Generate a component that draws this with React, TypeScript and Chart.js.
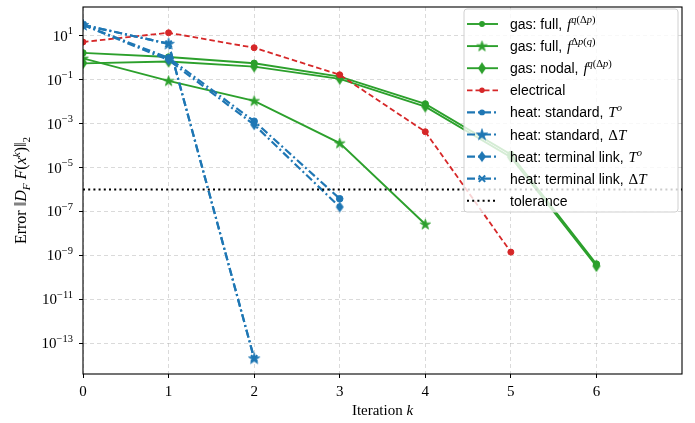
import React, { useEffect, useRef } from 'react';
import { Chart, registerables } from 'chart.js';

Chart.register(...registerables);

// ---------- data ----------
const ITERATIONS = [0, 1, 2, 3, 4, 5, 6];
const X_MAX = 7;
const Y_TICK_EXPONENTS = [1, -1, -3, -5, -7, -9, -11, -13];
const Y_MIN_EXP = -14.41;
const Y_MAX_EXP = 2.32;

const GAS_FULL_Q = [1.7, 1.1, 0.57, 0.14, 8e-3, 4e-5, 4e-10];
const GAS_FULL_DP = [0.95, 0.09, 0.011, 1.3e-4, 2.6e-8];
const GAS_NODAL = [0.56, 0.68, 0.4, 0.11, 6e-3, 3e-5, 3.2e-10];
const ELECTRICAL = [5.3, 14, 2.9, 0.17, 4.3e-4, 1.4e-9];
const HEAT_STD_T = [32, 1.0, 1.3e-3, 3.8e-7];
const HEAT_STD_DT = [32, 4.4, 2e-14];
const HEAT_TL_T = [32, 0.8, 9e-4, 1.6e-7];
const HEAT_TL_DT = [32, 4.4, 2e-14];
const TOLERANCE = 1e-6;

const LEGEND_TEXT = [
  'gas: full, ',
  'gas: full, ',
  'gas: nodal, ',
  'electrical',
  'heat: standard, ',
  'heat: standard, ',
  'heat: terminal link, ',
  'heat: terminal link, ',
  'tolerance',
];

type Part = [string, string];
const F_Q_DP: Part[] = [['f', 'it'], ['q', 'supit'], ['(', 'suprm'], ['Δ', 'suprm'], ['p', 'supit'], [')', 'suprm']];
const F_DP_Q: Part[] = [['f', 'it'], ['Δ', 'suprm'], ['p', 'supit'], ['(', 'suprm'], ['q', 'supit'], [')', 'suprm']];
const T_O: Part[] = [['T', 'it'], ['o', 'supit']];
const DELTA_T: Part[] = [['Δ', 'rm'], ['T', 'it']];
const LEGEND_MATH: Part[][] = [F_Q_DP, F_DP_Q, F_Q_DP, [], T_O, DELTA_T, T_O, DELTA_T, []];

const GREEN = '#2ca02c';
const RED = '#d62728';
const BLUE = '#1f77b4';

// ---------- markers ----------
function makeStar(color: string, d: number) {
  const c = document.createElement('canvas');
  const s = Math.ceil(d) + 2;
  c.width = s;
  c.height = s;
  const g = c.getContext('2d')!;
  const R = d / 2;
  const r = R * 0.382;
  g.translate(s / 2, s / 2 + R * 0.06);
  g.beginPath();
  for (let i = 0; i < 10; i++) {
    const rad = i % 2 === 0 ? R : r;
    const a = -Math.PI / 2 + (i * Math.PI) / 5;
    const x = rad * Math.cos(a);
    const y = rad * Math.sin(a);
    if (i === 0) g.moveTo(x, y);
    else g.lineTo(x, y);
  }
  g.closePath();
  g.fillStyle = color;
  g.fill();
  g.strokeStyle = color;
  g.lineWidth = 0.8;
  g.stroke();
  return c;
}

function makeDiamond(color: string, w: number, h: number) {
  const c = document.createElement('canvas');
  c.width = Math.ceil(w) + 2;
  c.height = Math.ceil(h) + 2;
  const g = c.getContext('2d')!;
  const cx = c.width / 2;
  const cy = c.height / 2;
  g.beginPath();
  g.moveTo(cx, cy - h / 2);
  g.lineTo(cx + w / 2, cy);
  g.lineTo(cx, cy + h / 2);
  g.lineTo(cx - w / 2, cy);
  g.closePath();
  g.fillStyle = color;
  g.fill();
  return c;
}

function toPoints(values: number[]) {
  return values.map((v, i) => ({ x: ITERATIONS[i], y: v }));
}

// ---------- rich text helper ----------
function fontFor(style: string, base = 15) {
  const sub = Math.round(base * 0.7 * 10) / 10;
  switch (style) {
    case 'sans':
      return { font: '14px "Liberation Sans"', dy: 0 };
    case 'it':
      return { font: `italic ${base}px "Liberation Serif"`, dy: 0 };
    case 'rm':
      return { font: `${base}px "Liberation Serif"`, dy: 0 };
    case 'supit':
      return { font: `italic ${sub}px "Liberation Serif"`, dy: -base * 0.4 };
    case 'suprm':
      return { font: `${sub}px "Liberation Serif"`, dy: -base * 0.4 };
    case 'subit':
      return { font: `italic ${sub}px "Liberation Serif"`, dy: base * 0.24 };
    case 'subrm':
      return { font: `${sub}px "Liberation Serif"`, dy: base * 0.24 };
    default:
      return { font: `${base}px "Liberation Serif"`, dy: 0 };
  }
}

function measureParts(ctx: CanvasRenderingContext2D, parts: Part[], base = 15) {
  let w = 0;
  for (const [t, s] of parts) {
    ctx.font = fontFor(s, base).font;
    w += ctx.measureText(t).width;
  }
  return w;
}

function drawParts(ctx: CanvasRenderingContext2D, x: number, y: number, parts: Part[], base = 15) {
  for (const [t, s] of parts) {
    const f = fontFor(s, base);
    ctx.font = f.font;
    ctx.fillText(t, x, y + f.dy);
    x += ctx.measureText(t).width;
  }
  return x;
}

const Y_TITLE: Part[] = [
  ['Error ', 'rm'],
  ['‖', 'rm'],
  ['D', 'it'],
  ['F', 'subit'],
  [' ', 'rm'],
  ['F', 'it'],
  ['(', 'rm'],
  ['x', 'it'],
  ['k', 'supit'],
  [')', 'rm'],
  ['‖', 'rm'],
  ['2', 'subrm'],
];
const X_TITLE: Part[] = [
  ['Iteration ', 'rm'],
  ['k', 'it'],
];

export default function App() {
  const ref = useRef<HTMLCanvasElement>(null);

  useEffect(() => {
    const canvas = ref.current!;

    const greenStar = makeStar(GREEN, 11);
    const blueStar = makeStar(BLUE, 12);
    const greenDiamond = makeDiamond(GREEN, 8, 12);
    const blueDiamond = makeDiamond(BLUE, 8, 11);

    const series = [
      { data: GAS_FULL_Q, color: GREEN, dash: [] as number[], width: 1.9, marker: 'circle' as any, radius: 3.2 },
      { data: GAS_FULL_DP, color: GREEN, dash: [], width: 1.9, marker: greenStar, radius: 5 },
      { data: GAS_NODAL, color: GREEN, dash: [], width: 1.9, marker: greenDiamond, radius: 5 },
      { data: ELECTRICAL, color: RED, dash: [5.5, 3], width: 1.8, marker: 'circle', radius: 3 },
      { data: HEAT_STD_T, color: BLUE, dash: [8, 3, 2, 3], width: 2.2, marker: 'circle', radius: 3.3 },
      { data: HEAT_STD_DT, color: BLUE, dash: [8, 3, 2, 3], width: 2.2, marker: blueStar, radius: 5 },
      { data: HEAT_TL_T, color: BLUE, dash: [8, 3, 2, 3], width: 2.2, marker: blueDiamond, radius: 5 },
      { data: HEAT_TL_DT, color: BLUE, dash: [8, 3, 2, 3], width: 2.2, marker: 'crossRot', radius: 4.5 },
    ];

    const datasets: any[] = series.map((s, i) => ({
      label: LEGEND_TEXT[i],
      data: toPoints(s.data),
      borderColor: s.color,
      backgroundColor: s.color,
      borderWidth: s.width,
      borderDash: s.dash,
      pointStyle: s.marker,
      pointRadius: s.radius,
      pointBackgroundColor: s.color,
      pointBorderColor: s.color,
      pointBorderWidth: s.marker === 'crossRot' ? 2 : 1,
      tension: 0,
      fill: false,
      clip: 0,
      order: -i,
    }));
    datasets.push({
      label: LEGEND_TEXT[8],
      data: [
        { x: 0, y: TOLERANCE },
        { x: X_MAX, y: TOLERANCE },
      ],
      borderColor: '#000',
      borderWidth: 2,
      borderDash: [2, 3.2],
      pointRadius: 0,
      tension: 0,
      fill: false,
      clip: 0,
      order: -8,
    });

    const customPlugin = {
      id: 'custom',
      afterDraw(chart: any) {
        const ctx: CanvasRenderingContext2D = chart.ctx;
        const a = chart.chartArea;
        const yScale = chart.scales.y;
        ctx.save();

        // frame
        ctx.strokeStyle = '#000';
        ctx.lineWidth = 1.1;
        ctx.setLineDash([]);
        ctx.strokeRect(a.left, a.top, a.right - a.left, a.bottom - a.top);

        // y tick labels 10^e
        ctx.fillStyle = '#000';
        ctx.textBaseline = 'alphabetic';
        ctx.textAlign = 'left';
        for (const e of Y_TICK_EXPONENTS) {
          const y = yScale.getPixelForValue(Math.pow(10, e));
          const expStr = e < 0 ? '\u2212' + String(-e) : String(e);
          ctx.font = '10.5px "Liberation Serif"';
          const ew = ctx.measureText(expStr).width;
          ctx.font = '15px "Liberation Serif"';
          const bw = ctx.measureText('10').width;
          const right = a.left - 10;
          ctx.fillText('10', right - ew - bw, y + 5);
          ctx.font = '10.5px "Liberation Serif"';
          ctx.fillText(expStr, right - ew, y - 1.5);
        }

        // x title
        const xw = measureParts(ctx, X_TITLE);
        drawParts(ctx, (a.left + a.right) / 2 - xw / 2, 415, X_TITLE);

        // y title
        ctx.save();
        ctx.translate(26, (a.top + a.bottom) / 2);
        ctx.rotate(-Math.PI / 2);
        const yw = measureParts(ctx, Y_TITLE, 16);
        drawParts(ctx, -yw / 2, 0, Y_TITLE, 16);
        ctx.restore();

        // legend
        const lx = 464;
        const ly = 9;
        const lw = 214;
        const lh = 203;
        ctx.beginPath();
        (ctx as any).roundRect(lx, ly, lw, lh, 3);
        ctx.fillStyle = 'rgba(255,255,255,0.8)';
        ctx.fill();
        ctx.strokeStyle = '#d0d0d0';
        ctx.lineWidth = 1;
        ctx.stroke();

        for (let i = 0; i < 9; i++) {
          const cy = 24 + i * 22.1;
          const ds = datasets[i];
          ctx.save();
          ctx.strokeStyle = ds.borderColor;
          ctx.lineWidth = ds.borderWidth;
          ctx.setLineDash(ds.borderDash || []);
          ctx.beginPath();
          ctx.moveTo(467, cy);
          ctx.lineTo(498, cy);
          ctx.stroke();
          ctx.setLineDash([]);
          const m = i < 8 ? series[i].marker : null;
          if (m && typeof m === 'object') {
            ctx.drawImage(m, 482 - m.width / 2, cy - m.height / 2);
          } else if (m === 'circle') {
            ctx.fillStyle = ds.borderColor;
            ctx.beginPath();
            ctx.arc(482, cy, series[i].radius * 0.9, 0, Math.PI * 2);
            ctx.fill();
          } else if (m === 'crossRot') {
            const r = 4.5 * 0.7071;
            ctx.lineWidth = 2;
            ctx.beginPath();
            ctx.moveTo(482 - r, cy - r);
            ctx.lineTo(482 + r, cy + r);
            ctx.moveTo(482 - r, cy + r);
            ctx.lineTo(482 + r, cy - r);
            ctx.stroke();
          }
          ctx.restore();
          ctx.fillStyle = '#000';
          const x = drawParts(ctx, 510, cy + 5, [[LEGEND_TEXT[i], 'sans']]);
          drawParts(ctx, x + 1, cy + 5, LEGEND_MATH[i]);
        }

        ctx.restore();
      },
    };

    const gridCommon = {
      color: 'rgba(176,176,176,0.6)',
      lineWidth: 0.8,
      tickColor: '#000',
      tickLength: 4,
      tickWidth: 1,
      tickBorderDash: [],
    };

    const chart = new Chart(canvas, {
      type: 'line',
      data: { datasets },
      options: {
        animation: false,
        responsive: false,
        layout: { padding: { left: 0, right: 13, top: 7, bottom: 0 } },
        plugins: {
          legend: { display: false },
          tooltip: { enabled: false },
        },
        scales: {
          x: {
            type: 'linear',
            min: 0,
            max: X_MAX,
            afterFit(s: any) {
              s.height = 49;
            },
            afterBuildTicks(s: any) {
              s.ticks = ITERATIONS.map((v) => ({ value: v }));
            },
            ticks: {
              color: '#000',
              font: { family: 'Liberation Serif', size: 15 },
              padding: 5,
              maxRotation: 0,
              autoSkip: false,
              callback: (v: any) => String(v),
            },
            grid: gridCommon,
            border: { display: false, dash: [4, 3] },
          },
          y: {
            type: 'logarithmic',
            min: Math.pow(10, Y_MIN_EXP),
            max: Math.pow(10, Y_MAX_EXP),
            afterFit(s: any) {
              s.width = 83;
            },
            afterBuildTicks(s: any) {
              s.ticks = Y_TICK_EXPONENTS.map((e) => ({ value: Math.pow(10, e) }));
            },
            ticks: { display: false },
            grid: gridCommon,
            border: { display: false, dash: [4, 3] },
          },
        },
      } as any,
      plugins: [customPlugin],
    });

    return () => chart.destroy();
  }, []);

  return (
    <div style={{ position: 'fixed', left: 0, top: 0, width: 695, height: 423, background: '#fff' }}>
      <canvas ref={ref} width={695} height={423} style={{ display: 'block' }} />
    </div>
  );
}
